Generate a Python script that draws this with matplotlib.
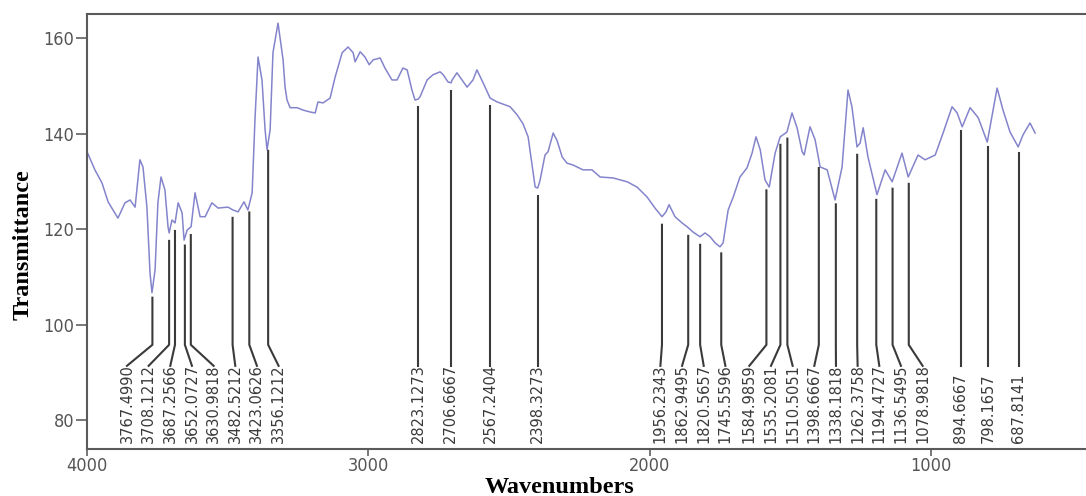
import numpy as np
import matplotlib.pyplot as plt
from matplotlib import font_manager

# IR spectrum (wavenumber in cm-1, % transmittance)
wavenumber = [4000, 3972, 3947, 3925, 3890, 3865, 3847, 3829, 3812, 3801,
              3787, 3776, 3769, 3758, 3748, 3737, 3723, 3712, 3708, 3698,
              3687, 3676, 3662, 3655, 3644, 3630, 3616, 3598, 3580, 3556,
              3534, 3499, 3481, 3463, 3442, 3428, 3413, 3403, 3392, 3378,
              3367, 3360, 3349, 3339, 3321, 3303, 3296, 3289, 3278, 3253,
              3232, 3207, 3189, 3179, 3161, 3136, 3118, 3093, 3072, 3054,
              3047, 3029, 3012, 2997, 2983, 2958, 2941, 2916, 2898, 2877,
              2862, 2845, 2834, 2823, 2816, 2791, 2770, 2745, 2734, 2717,
              2706, 2702, 2685, 2667, 2649, 2628, 2614, 2592, 2567, 2542,
              2496, 2471, 2450, 2432, 2418, 2407, 2398, 2390, 2372, 2361,
              2343, 2329, 2311, 2294, 2272, 2237, 2205, 2176, 2130, 2080,
              2045, 2009, 1981, 1956, 1942, 1931, 1910, 1885, 1867, 1846,
              1821, 1803, 1785, 1767, 1750, 1739, 1721, 1703, 1679, 1654,
              1636, 1622, 1607, 1590, 1575, 1554, 1536, 1512, 1494, 1476,
              1458, 1451, 1430, 1412, 1394, 1369, 1341, 1316, 1295, 1281,
              1263, 1252, 1241, 1224, 1192, 1163, 1138, 1103, 1081, 1046,
              1021, 985, 957, 925, 907, 889, 861, 832, 800, 765,
              744, 719, 690, 673, 648, 630]
transmittance = [136.2, 132.4, 129.7, 125.7, 122.3, 125.5, 126.1, 124.6, 134.5, 133.0,
                 124.6, 110.8, 106.7, 111.5, 125.5, 130.9, 128.2, 120.5, 119.2, 121.9,
                 121.3, 125.5, 123.4, 117.7, 119.8, 120.5, 127.6, 122.6, 122.6, 125.5,
                 124.4, 124.6, 124.0, 123.6, 125.7, 124.0, 127.6, 142.8, 156.0, 151.2,
                 140.8, 136.6, 140.8, 156.9, 163.1, 155.4, 149.7, 147.0, 145.4, 145.4,
                 144.9, 144.5, 144.3, 146.6, 146.4, 147.4, 151.8, 156.9, 158.1, 156.9,
                 155.0, 157.1, 156.0, 154.4, 155.4, 155.8, 153.7, 151.2, 151.2, 153.7,
                 153.3, 149.1, 147.0, 147.2, 147.7, 151.2, 152.3, 152.9, 152.3, 150.8,
                 150.6, 151.2, 152.7, 151.2, 149.7, 151.2, 153.3, 150.6, 147.4, 146.6,
                 145.6, 143.9, 142.0, 139.3, 133.4, 128.8, 128.6, 130.1, 135.5, 136.2,
                 140.1, 138.5, 135.1, 133.8, 133.4, 132.4, 132.4, 130.9, 130.7, 129.9,
                 128.8, 126.7, 124.4, 122.6, 123.6, 125.1, 122.6, 121.3, 120.5, 119.4,
                 118.4, 119.2, 118.4, 117.1, 116.3, 117.1, 124.0, 126.7, 130.9, 132.8,
                 135.9, 139.3, 136.6, 130.3, 128.8, 135.9, 139.3, 140.3, 144.3, 141.2,
                 136.2, 135.5, 141.4, 138.7, 133.0, 132.4, 126.1, 133.0, 149.1, 145.6,
                 137.2, 138.0, 141.2, 135.1, 127.2, 132.4, 129.9, 135.9, 130.9, 135.5,
                 134.5, 135.5, 140.1, 145.6, 144.3, 141.4, 145.4, 143.3, 138.2, 149.5,
                 144.9, 140.3, 137.2, 139.7, 142.2, 140.1]

peaks = [3767.4990, 3708.1212, 3687.2566, 3652.0727, 3630.9818, 3482.5212,
         3423.0626, 3356.1212, 2823.1273, 2706.6667, 2567.2404, 2398.3273,
         1956.2343, 1862.9495, 1820.5657, 1745.5596, 1584.9859, 1535.2081,
         1510.5051, 1398.6667, 1338.1818, 1262.3758, 1194.4727, 1136.5495,
         1078.9818, 894.6667, 798.1657, 687.8141]

x_ticks = [4000, 3000, 2000, 1000]
y_ticks = [80, 100, 120, 140, 160]


def spread(xs, gap):
    # push labels apart so neighbours keep at least `gap` between them
    groups = [[x] for x in xs]
    merged = True
    while merged:
        merged = False
        for i in range(len(groups) - 1):
            a, b = groups[i], groups[i + 1]
            a_end = np.mean(a) + (len(a) - 1) / 2 * gap
            b_start = np.mean(b) - (len(b) - 1) / 2 * gap
            if b_start - a_end < gap:
                groups[i] = a + b
                del groups[i + 1]
                merged = True
                break
    out = []
    for g in groups:
        c = np.mean(g)
        out += [c + (k - (len(g) - 1) / 2) * gap for k in range(len(g))]
    return out


# condensed sans for the numbers (DejaVu Sans Condensed if installed)
narrow_file = None
for f in font_manager.fontManager.ttflist:
    if (("Narrow" in f.name or "Condensed" in f.name or f.stretch == "condensed")
            and f.style == "normal" and f.weight in (400, "normal", "regular")):
        narrow_file = f
        break
if narrow_file is not None:
    lab_font = font_manager.FontProperties(fname=narrow_file.fname, size=11.7)
    tick_font = font_manager.FontProperties(fname=narrow_file.fname, size=13)
else:
    lab_font = font_manager.FontProperties(family="DejaVu Sans", size=9.5)
    tick_font = font_manager.FontProperties(family="DejaVu Sans", size=11)

wn = np.asarray(wavenumber)
tr = np.asarray(transmittance)
pk = np.asarray(peaks)

fig = plt.figure(figsize=(10.86, 4.96), dpi=100)
ax = fig.add_axes([87 / 1086, 47 / 496, 1 - 87 / 1086, 435 / 496])

ax.plot(wn, tr, color="#8484cc", lw=1.1)

label_x = -np.asarray(spread(list(-pk), 77.0))
peak_t = np.interp(pk, wn[::-1], tr[::-1])
for p, t, lx in zip(pk, peak_t, label_x):
    ax.plot([p, p, lx], [t - 1.7, 95.8, 91.4], color="#3a3a3a", lw=1.5)
    ax.text(lx, 75.3, f"{p:.4f}", rotation=90, ha="center", va="bottom",
            color="#3a3a3a", fontproperties=lab_font)

ax.set_xlim(4000, 449)
ax.set_ylim(74, 165)
ax.set_xticks(x_ticks)
ax.set_yticks(y_ticks)
ax.tick_params(axis="both", colors="#606060", labelcolor="#555555",
               width=1.2, pad=1)
ax.tick_params(axis="y", length=8)
ax.tick_params(axis="x", length=5)
for lab in ax.get_xticklabels() + ax.get_yticklabels():
    lab.set_fontproperties(tick_font)
ax.spines["right"].set_visible(False)
for s in ["left", "top", "bottom"]:
    ax.spines[s].set_color("#5a5a5a")
    ax.spines[s].set_linewidth(1.5)

fig.text(560 / 1086, 1 - 493 / 496, "Wavenumbers", ha="center", va="baseline",
         fontsize=17.5, fontweight="bold", family="Liberation Serif")
fig.text(23 / 1086, 1 - 245 / 496, "Transmittance", rotation=90, ha="center",
         va="center", fontsize=17.5, fontweight="bold", family="Liberation Serif")

fig.savefig("out.png", dpi=100)
